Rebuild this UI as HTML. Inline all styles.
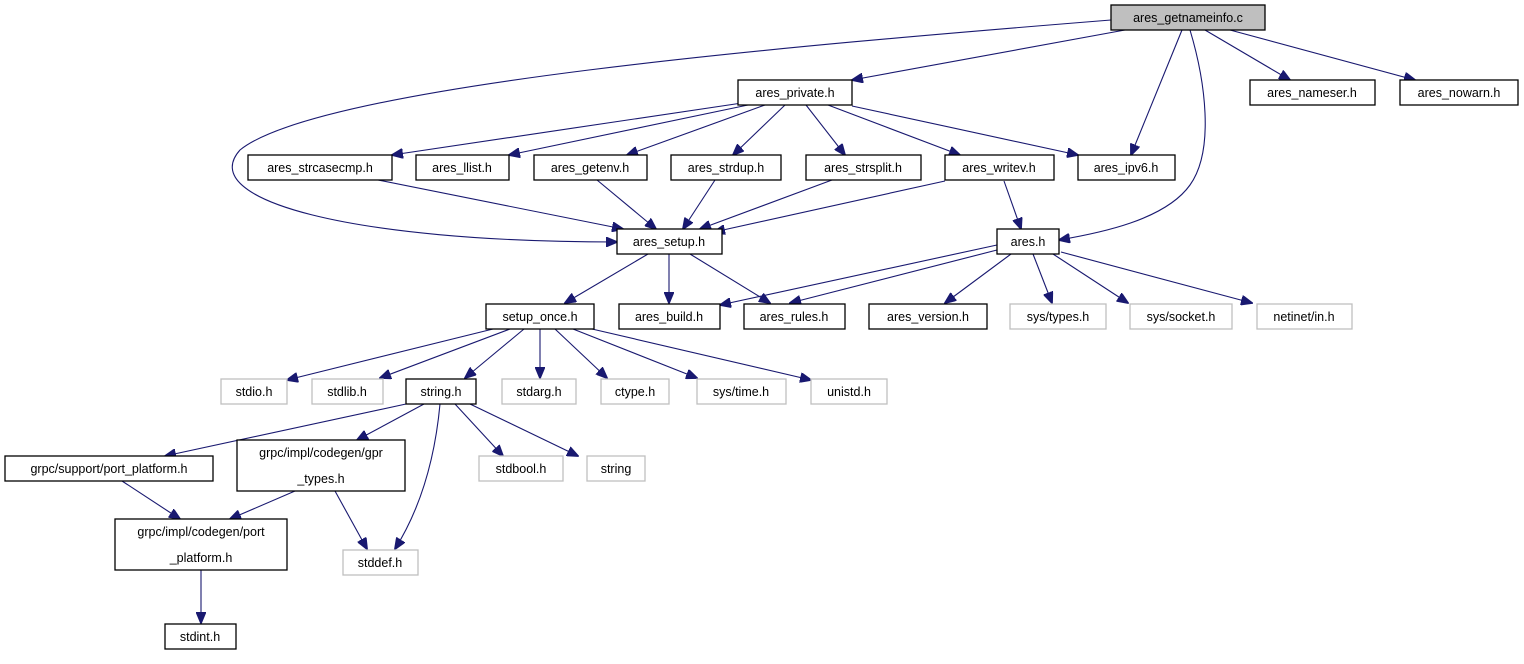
<!DOCTYPE html>
<html><head><meta charset="utf-8"><style>
body{margin:0;background:#fff;}
svg{display:block;}
text{font-family:"Liberation Sans",sans-serif;font-size:12.5px;fill:#000;text-anchor:middle;}
.b{fill:#fff;stroke:#000;stroke-width:1.3;}
.g{fill:#fff;stroke:#bfbfbf;stroke-width:1.3;}
.e{fill:none;stroke:#191970;stroke-width:1.1;}
</style></head><body>
<svg width="1524" height="664" viewBox="0 0 1524 664">
<defs><marker id="a" markerWidth="12" markerHeight="10" refX="11" refY="5" orient="auto" markerUnits="userSpaceOnUse"><path d="M0,0 L12,5 L0,10 z" fill="#191970" stroke="#191970"/></marker></defs>
<g class="e" marker-end="url(#a)">
<path d="M1111,20 C800,45 320,85 240,150 C195,200 350,242 617,242"/>
<path d="M1125,30 L852,80"/>
<path d="M1182,30 L1131,155"/>
<path d="M1190,30 C1205,80 1215,150 1190,185 C1165,220 1100,233 1059,240"/>
<path d="M1205,30 L1290,80"/>
<path d="M1230,30 L1415,80"/>
<path d="M742,103 L392,155"/>
<path d="M748,105 L509,155"/>
<path d="M765,105 L627,155"/>
<path d="M785,105 L733,155"/>
<path d="M806,105 L845,155"/>
<path d="M828,105 L960,155"/>
<path d="M852,106 L1078,155"/>
<path d="M378,180 L623,229"/>
<path d="M597,180 L656,229"/>
<path d="M715,180 L683,229"/>
<path d="M832,180 L700,229"/>
<path d="M945,181 L714,232"/>
<path d="M1004,181 L1021,229"/>
<path d="M648,254 L565,303"/>
<path d="M669,254 L669,303"/>
<path d="M690,254 L770,303"/>
<path d="M997,245 L720,305"/>
<path d="M997,250 L790,303"/>
<path d="M1011,254 L945,303"/>
<path d="M1033,254 L1052,303"/>
<path d="M1053,254 L1128,303"/>
<path d="M1061,252 L1252,303"/>
<path d="M493,329 L287,380"/>
<path d="M510,329 L380,378"/>
<path d="M524,329 L465,378"/>
<path d="M540,329 L540,378"/>
<path d="M555,329 L607,378"/>
<path d="M573,329 L697,378"/>
<path d="M592,329 L811,380"/>
<path d="M406,404 L165,456"/>
<path d="M424,404 L357,440"/>
<path d="M440,404 Q432,490 395,549"/>
<path d="M455,404 L503,456"/>
<path d="M470,404 L578,456"/>
<path d="M122,481 L180,519"/>
<path d="M295,491 L230,519"/>
<path d="M335,491 L367,549"/>
<path d="M201,570 L201,623"/>
</g>
<rect x="1111" y="5" width="154" height="25" fill="#bfbfbf" stroke="#000" stroke-width="1.3"/><text x="1188" y="22">ares_getnameinfo.c</text>
<rect class="b" x="738" y="80" width="114" height="25"/><text x="795" y="97">ares_private.h</text>
<rect class="b" x="1250" y="80" width="125" height="25"/><text x="1312" y="97">ares_nameser.h</text>
<rect class="b" x="1400" y="80" width="118" height="25"/><text x="1459" y="97">ares_nowarn.h</text>
<rect class="b" x="248" y="155" width="144" height="25"/><text x="320" y="172">ares_strcasecmp.h</text>
<rect class="b" x="416" y="155" width="93" height="25"/><text x="462" y="172">ares_llist.h</text>
<rect class="b" x="534" y="155" width="113" height="25"/><text x="590" y="172">ares_getenv.h</text>
<rect class="b" x="671" y="155" width="110" height="25"/><text x="726" y="172">ares_strdup.h</text>
<rect class="b" x="806" y="155" width="115" height="25"/><text x="863" y="172">ares_strsplit.h</text>
<rect class="b" x="945" y="155" width="109" height="25"/><text x="999" y="172">ares_writev.h</text>
<rect class="b" x="1078" y="155" width="97" height="25"/><text x="1126" y="172">ares_ipv6.h</text>
<rect class="b" x="617" y="229" width="105" height="25"/><text x="669" y="246">ares_setup.h</text>
<rect class="b" x="997" y="229" width="62" height="25"/><text x="1028" y="246">ares.h</text>
<rect class="b" x="486" y="304" width="108" height="25"/><text x="540" y="321">setup_once.h</text>
<rect class="b" x="619" y="304" width="101" height="25"/><text x="669" y="321">ares_build.h</text>
<rect class="b" x="744" y="304" width="101" height="25"/><text x="794" y="321">ares_rules.h</text>
<rect class="b" x="869" y="304" width="118" height="25"/><text x="928" y="321">ares_version.h</text>
<rect class="g" x="1010" y="304" width="96" height="25"/><text x="1058" y="321">sys/types.h</text>
<rect class="g" x="1130" y="304" width="102" height="25"/><text x="1181" y="321">sys/socket.h</text>
<rect class="g" x="1257" y="304" width="95" height="25"/><text x="1304" y="321">netinet/in.h</text>
<rect class="g" x="221" y="379" width="66" height="25"/><text x="254" y="396">stdio.h</text>
<rect class="g" x="312" y="379" width="71" height="25"/><text x="347" y="396">stdlib.h</text>
<rect class="b" x="406" y="379" width="70" height="25"/><text x="441" y="396">string.h</text>
<rect class="g" x="502" y="379" width="74" height="25"/><text x="539" y="396">stdarg.h</text>
<rect class="g" x="601" y="379" width="68" height="25"/><text x="635" y="396">ctype.h</text>
<rect class="g" x="697" y="379" width="89" height="25"/><text x="741" y="396">sys/time.h</text>
<rect class="g" x="811" y="379" width="76" height="25"/><text x="849" y="396">unistd.h</text>
<rect class="b" x="5" y="456" width="208" height="25"/><text x="109" y="473">grpc/support/port_platform.h</text>
<rect class="b" x="237" y="440" width="168" height="51"/><text x="321" y="457">grpc/impl/codegen/gpr</text><text x="321" y="483">_types.h</text>
<rect class="g" x="479" y="456" width="84" height="25"/><text x="521" y="473">stdbool.h</text>
<rect class="g" x="587" y="456" width="58" height="25"/><text x="616" y="473">string</text>
<rect class="b" x="115" y="519" width="172" height="51"/><text x="201" y="536">grpc/impl/codegen/port</text><text x="201" y="562">_platform.h</text>
<rect class="g" x="343" y="550" width="75" height="25"/><text x="380" y="567">stddef.h</text>
<rect class="b" x="165" y="624" width="71" height="25"/><text x="200" y="641">stdint.h</text>
</svg>
</body></html>
